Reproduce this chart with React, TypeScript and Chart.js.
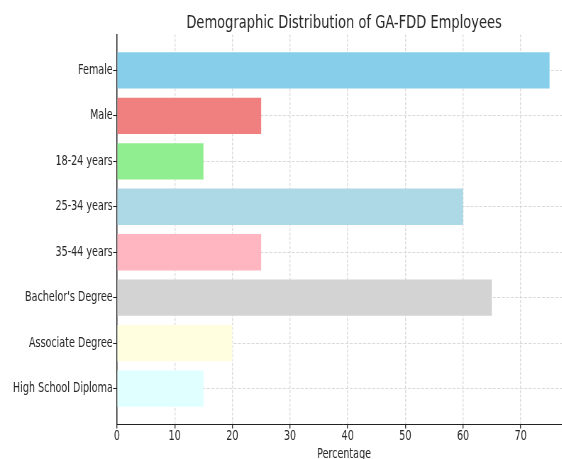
import React, { useEffect, useRef } from "react";
import { Chart, registerables } from "chart.js";

Chart.register(...registerables);

const chartTitle = "Demographic Distribution of GA-FDD Employees";
const xAxisTitle = "Percentage";
const categories = [
  "Female",
  "Male",
  "18-24 years",
  "25-34 years",
  "35-44 years",
  "Bachelor's Degree",
  "Associate Degree",
  "High School Diploma",
];
const percentages = [75, 25, 15, 60, 25, 65, 20, 15];
const barColors = [
  "#87CEEB",
  "#F08080",
  "#90EE90",
  "#ADD8E6",
  "#FFB6C1",
  "#D3D3D3",
  "#FFFFE0",
  "#E0FFFF",
];
const xTicks = [0, 10, 20, 30, 40, 50, 60, 70];

const FONT = "'DejaVu Sans', sans-serif";
const TEXT = "#262626";
const GRID = "rgba(214,214,214,0.9)";
const SCALE_X = 576 / 812;

const titlePlugin = {
  id: "centeredTitle",
  afterDraw(chart: any) {
    const { ctx, chartArea } = chart;
    ctx.save();
    ctx.font = `18.4px ${FONT}`;
    ctx.fillStyle = TEXT;
    ctx.textAlign = "center";
    ctx.textBaseline = "alphabetic";
    ctx.fillText(chartTitle, (chartArea.left + chartArea.right) / 2, 28);
    ctx.restore();
  },
};

export default function App() {
  const ref = useRef<HTMLCanvasElement | null>(null);

  useEffect(() => {
    if (!ref.current) return;
    const chart = new Chart(ref.current, {
      type: "bar",
      data: {
        datasets: [
          {
            data: categories.map((_, i) => ({ x: percentages[i], y: i })),
            backgroundColor: barColors,
            borderWidth: 0,
            barPercentage: 0.8,
            categoryPercentage: 1,
          },
        ],
      },
      options: {
        indexAxis: "y",
        animation: false,
        responsive: true,
        maintainAspectRatio: false,
        devicePixelRatio: 1,
        layout: { padding: { top: 34.5, right: 6.8, bottom: 0, left: 0 } },
        plugins: {
          legend: { display: false },
          title: { display: false },
          tooltip: { enabled: false },
        },
        scales: {
          x: {
            type: "linear",
            position: "bottom",
            min: 0,
            max: 78.75,
            offset: false,
            z: 1,
            afterBuildTicks: (s: any) => {
              s.ticks = xTicks.map((v) => ({ value: v }));
            },
            afterFit: (s: any) => {
              s.height = 470 - 424.5;
            },
            ticks: {
              font: { family: FONT, size: 13.5 },
              color: TEXT,
              padding: 0,
              maxRotation: 0,
              autoSkip: false,
            },
            title: {
              display: true,
              text: xAxisTitle,
              font: { family: FONT, size: 13.5 },
              color: TEXT,
              padding: { top: 0, bottom: 7.6 },
            },
            grid: {
              offset: false,
              color: GRID,
              lineWidth: 1.4,
              tickLength: 4,
              tickColor: "#222",
              tickWidth: 1.3,
            },
            border: { display: true, color: "#222", width: 1, dash: [3, 1.5] },
          },
          y: {
            type: "linear",
            reverse: true,
            min: -0.79,
            max: 7.79,
            offset: false,
            z: 1,
            afterBuildTicks: (s: any) => {
              s.ticks = categories.map((_, i) => ({ value: i }));
            },
            afterFit: (s: any) => {
              s.width = 164.9;
            },
            ticks: {
              font: { family: FONT, size: 13.5 },
              color: TEXT,
              padding: 0.5,
              autoSkip: false,
              callback: (v: any) => categories[Number(v)] ?? "",
            },
            grid: {
              offset: false,
              color: GRID,
              lineWidth: 1,
              tickLength: 5.5,
              tickColor: "#222",
              tickWidth: 1,
            },
            border: { display: true, color: "#222", width: 1.5, dash: [4.2, 2.1] },
          },
        },
      },
      plugins: [titlePlugin],
    } as any);
    return () => chart.destroy();
  }, []);

  return (
    <div
      style={{
        position: "fixed",
        left: 0,
        top: 0,
        width: 562,
        height: 459,
        overflow: "hidden",
        background: "#fff",
      }}
    >
      <div
        style={{
          width: 812,
          height: 470,
          transform: `scaleX(${SCALE_X})`,
          transformOrigin: "0 0",
        }}
      >
        <canvas ref={ref} />
      </div>
    </div>
  );
}
